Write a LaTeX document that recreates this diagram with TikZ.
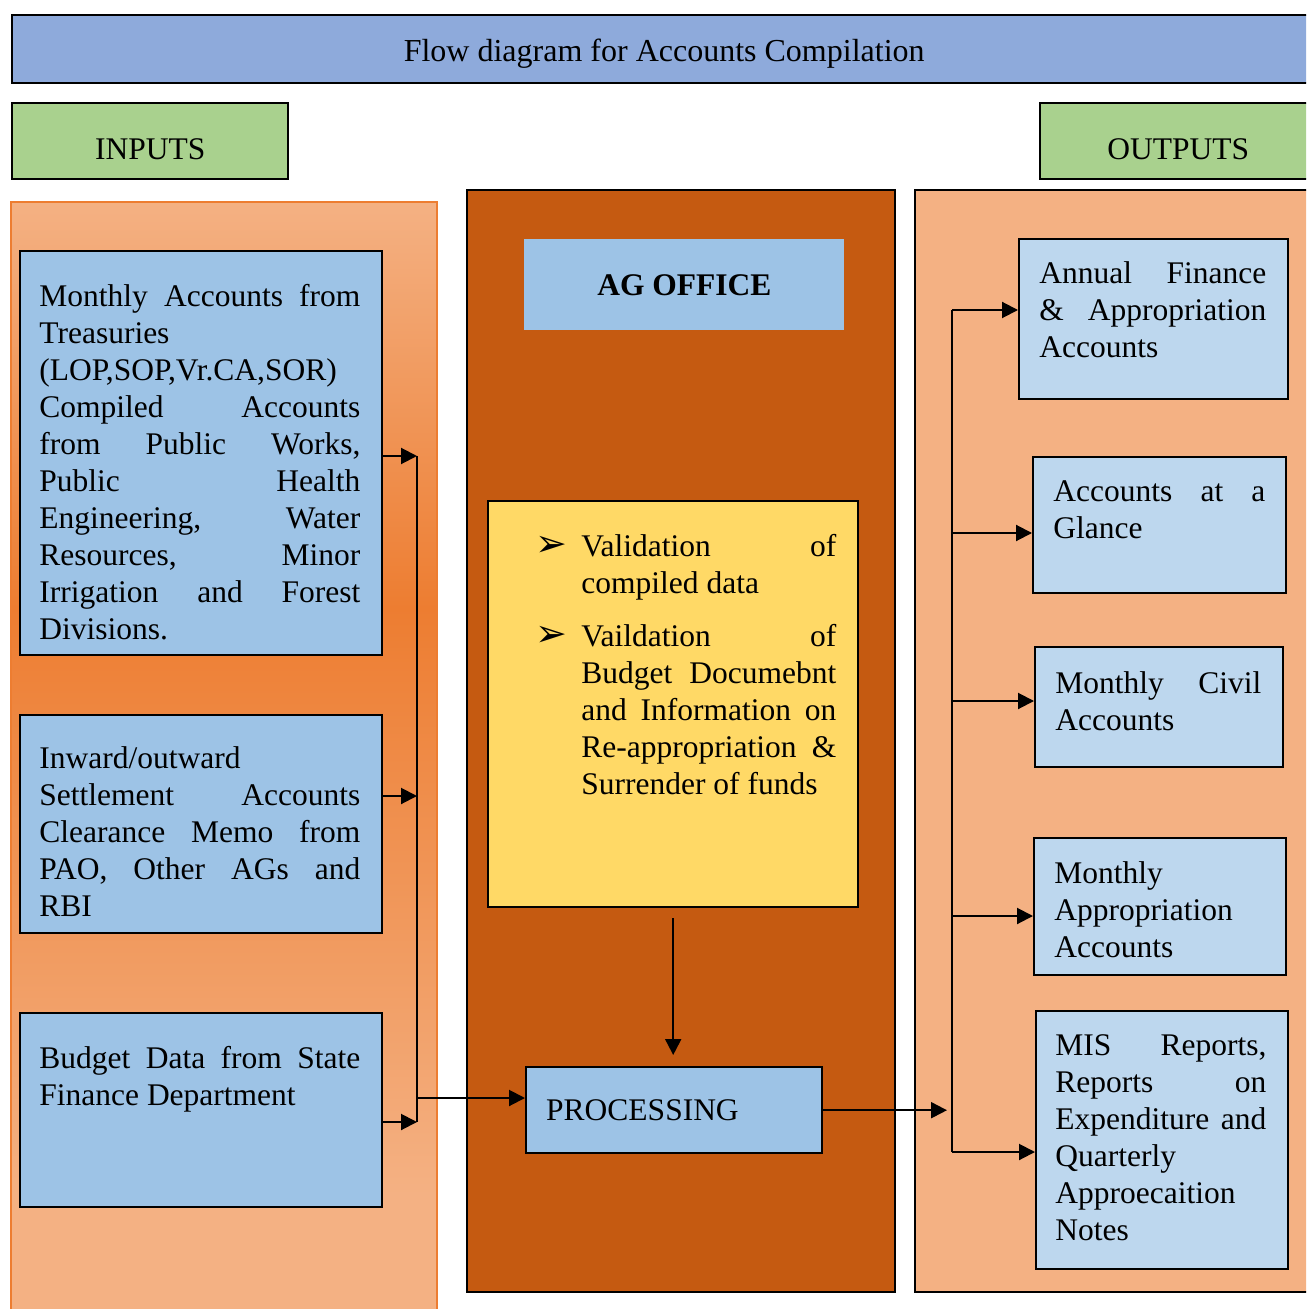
\documentclass[tikz,border=0pt]{standalone}
\usepackage{fontspec}
\setmainfont{Liberation Serif}
\newfontfamily\dingfont{DejaVu Sans}
\usetikzlibrary{arrows.meta}
\definecolor{titleblue}{RGB}{142, 170, 219}
\definecolor{leafgreen}{RGB}{169, 209, 142}
\definecolor{skyblue}{RGB}{157, 195, 230}
\definecolor{paleblue}{RGB}{189, 215, 238}
\definecolor{rust}{RGB}{197, 90, 17}
\definecolor{sunflower}{RGB}{255, 217, 102}
\definecolor{peach}{RGB}{244, 177, 131}
\definecolor{carrot}{RGB}{237, 125, 49}
\pgfdeclareverticalshading{inputshade}{100bp}{color(0bp)=(peach); color(31bp)=(peach); color(57bp)=(carrot); color(75bp)=(peach); color(100bp)=(peach)}
\hyphenpenalty=10000
\exhyphenpenalty=10000
\tikzset{
    blackline/.style={draw=black, line width=1.2pt},
    databox/.style={blackline, anchor=north west, inner sep=0pt},
    boxtext/.style={anchor=north west, inner sep=0pt, align=justify},
    flow/.style={line width=1pt, -{Triangle[length=8pt, width=8pt]}},
    bus/.style={line width=1pt}
}
\newcommand{\arrowbullet}{\makebox[23pt][l]{\dingfont\fontsize{19}{19}\selectfont ➢}}

\begin{document}
\begin{tikzpicture}[x=0.5pt, y=-0.5pt, every node/.style={font=\fontsize{15.75}{18.5}\selectfont}]
            \useasboundingbox (0,0) rectangle (1306,1309);
            \clip (0,0) rectangle (1306,1309);

            \shade[shading=inputshade, draw=carrot, line width=1.2pt] (  11, 202) rectangle ( 437,1330);
            \filldraw[blackline, fill=rust]                          ( 467, 190) rectangle ( 895,1292);
            \filldraw[blackline, fill=peach]                         ( 915, 190) rectangle (1330,1292);

            \node[databox, fill=titleblue, minimum width=652pt, minimum height=34pt, font=\fontsize{16}{19}\selectfont, text height=12pt, text depth=0pt]
                 (title) at (11,14) {Flow diagram for Accounts Compilation};
            \node[databox, fill=leafgreen, minimum width=138pt, minimum height=38pt, text height=18pt, text depth=0pt] (inputs)  at (  11,102) {INPUTS};
            \node[databox, fill=leafgreen, minimum width=138pt, minimum height=38pt, text height=18pt, text depth=0pt] (outputs) at (1039,102) {OUTPUTS};

            \node[databox, fill=skyblue, minimum width=181pt, minimum height=202pt] (treasury) at (19, 250) {};
            \node[databox, fill=skyblue, minimum width=181pt, minimum height=109pt] (settle)   at (19, 714) {};
            \node[databox, fill=skyblue, minimum width=181pt, minimum height=97pt]  (budget)   at (19,1012) {};

            \node[boxtext, text width=160.5pt] (treasurytxt) at (39, 284)
                 {Monthly Accounts from\linebreak Treasuries\\ (LOP,SOP,Vr.CA,SOR)\\ Compiled Accounts\linebreak from Public Works,\linebreak
                  Public Health\linebreak Engineering, Water\linebreak Resources, Minor\linebreak Irrigation and Forest\linebreak Divisions.};
            \node[boxtext, text width=160.5pt] (settletxt) at (39, 746)
                 {Inward/outward\\ Settlement Accounts\linebreak Clearance Memo from\linebreak PAO, Other AGs and\linebreak RBI};
            \node[boxtext, text width=160.5pt] (budgettxt) at (39,1046)
                 {Budget Data from State\linebreak Finance Department};

            \node[anchor=north west, fill=skyblue, minimum width=160pt, minimum height=45.5pt, inner sep=0pt, font=\fontsize{15.75}{18.5}\selectfont\bfseries]
                 (agoffice) at (524,239) {AG OFFICE};
            \node[databox, fill=sunflower, minimum width=185pt, minimum height=203pt] (checks) at (487,500) {};
            \node[boxtext, text width=150.5pt] (checkstxt) at (535,534)
                 {\hangindent=23pt\hangafter=1\arrowbullet Validation of\linebreak compiled data\par
                  \vspace{8pt}%
                  \hangindent=23pt\hangafter=1\arrowbullet Vaildation of\linebreak Budget Documebnt\linebreak
                  and Information on\linebreak Re-appropriation \&\linebreak Surrender of funds\par};
            \node[databox, fill=skyblue, minimum width=148pt, minimum height=43pt, text width=128pt, inner xsep=10pt, align=left] (process) at (525,1066) {PROCESSING};

            \node[databox, fill=paleblue, minimum width=134.5pt, minimum height=80pt]   (annual) at (1018, 238) {};
            \node[databox, fill=paleblue, minimum width=126.5pt, minimum height=68pt]   (glance) at (1032, 456) {};
            \node[databox, fill=paleblue, minimum width=124pt,   minimum height=60pt]   (civil)  at (1034, 646) {};
            \node[databox, fill=paleblue, minimum width=126pt,   minimum height=68.5pt] (approp) at (1033, 837) {};
            \node[databox, fill=paleblue, minimum width=126pt,   minimum height=129pt]  (mis)    at (1035,1010) {};

            \node[boxtext, text width=113.5pt] (annualtxt) at (1039, 261) {Annual Finance\linebreak \& Appropriation\linebreak Accounts};
            \node[boxtext, text width=106pt]   (glancetxt) at (1053, 480) {Accounts at a\linebreak Glance};
            \node[boxtext, text width=103pt]   (civiltxt)  at (1055, 671) {Monthly Civil\linebreak Accounts};
            \node[boxtext, text width=105pt]   (approptxt) at (1054, 861) {Monthly\\ Appropriation\\ Accounts};
            \node[boxtext, text width=105.5pt] (mistxt)    at (1055,1034)
                 {MIS Reports,\linebreak Reports on\linebreak Expenditure and\linebreak Quarterly\\ Approecaition\\ Notes};

            \coordinate (inbus1) at (417, 456);
            \coordinate (inbus2) at (417, 796);
            \coordinate (inbus3) at (417,1122);
            \coordinate (feed)   at (417,1098);
            \draw[flow] (treasury.east |- inbus1) -- (inbus1);
            \draw[flow] (settle.east |- inbus2) -- (inbus2);
            \draw[flow] (budget.east |- inbus3) -- (inbus3);
            \draw[bus]  (inbus1) -- (inbus3);
            \draw[flow] (feed) -- (feed -| process.west);

            \draw[flow, shorten <=5pt, shorten >=5.5pt] (checks.south) -- (checks.south |- process.north);

            \coordinate (outfeed) at (947,1109);
            \coordinate (outbus1) at (952, 310);
            \coordinate (outbus2) at (952, 533);
            \coordinate (outbus3) at (952, 701);
            \coordinate (outbus4) at (952, 916);
            \coordinate (outbus5) at (952,1152);
            \draw[flow] (process.east) -- (process.east -| outfeed);
            \draw[bus]  (outbus1) -- (outbus5);
            \draw[flow] (outbus1) -- (outbus1 -| annual.west);
            \draw[flow] (outbus2) -- (outbus2 -| glance.west);
            \draw[flow] (outbus3) -- (outbus3 -| civil.west);
            \draw[flow] (outbus4) -- (outbus4 -| approp.west);
            \draw[flow] (outbus5) -- (outbus5 -| mis.west);
\end{tikzpicture}
\end{document}
